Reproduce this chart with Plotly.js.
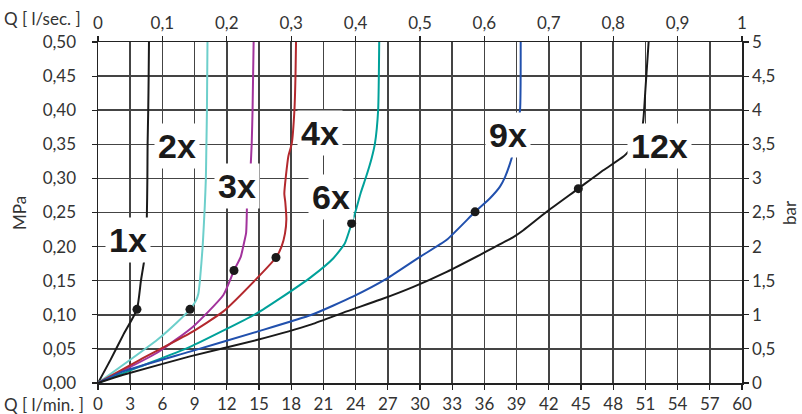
<!DOCTYPE html>
<html><head><meta charset="utf-8">
<script src="https://cdn.plot.ly/plotly-3.0.1.min.js"></script>
<style>html,body{margin:0;padding:0;background:#fff}#chart{width:802px;height:414px}</style>
</head><body><div id="chart"></div>
<script>
// Flow Q [l/min] and pressure p [MPa]
const q1x = [0, 1.2, 2.4, 3.63, 4.0, 4.38, 4.55, 4.6, 4.62, 4.68, 4.72, 4.75];
const p1x = [0, 0.035, 0.072, 0.108, 0.15, 0.188, 0.244, 0.3, 0.35, 0.4, 0.45, 0.5];
const q2x = [0, 3, 5.5, 7.3, 8.57, 9.1, 9.35, 9.5, 9.75, 9.95, 10.05, 10.1, 10.15, 10.2];
const p2x = [0, 0.034, 0.063, 0.088, 0.108, 0.12, 0.131, 0.151, 0.2, 0.26, 0.3, 0.35, 0.4, 0.5];
const q3x = [0, 5.47, 8.88, 11.68, 12.67, 13.3, 13.6, 13.8, 13.85, 13.9, 14.1, 14.22, 14.32, 14.4, 14.5];
const p3x = [0, 0.044, 0.083, 0.129, 0.165, 0.185, 0.205, 0.22, 0.239, 0.268, 0.29, 0.317, 0.351, 0.4, 0.5];
const q4x = [0, 3.9, 8.57, 11.68, 14.78, 16.58, 17.1, 17.42, 17.55, 17.45, 17.36, 17.73, 18.05, 18.3, 18.4, 18.45];
const p4x = [0, 0.034, 0.073, 0.105, 0.153, 0.184, 0.2, 0.219, 0.24, 0.265, 0.278, 0.332, 0.351, 0.4, 0.45, 0.5];
const q6x = [0, 3.91, 8.57, 14.78, 16.96, 19.9, 21.93, 23.0, 23.63, 24.04, 24.5, 24.97, 25.5, 25.8, 26.1, 26.2];
const p6x = [0, 0.024, 0.053, 0.102, 0.124, 0.156, 0.183, 0.205, 0.234, 0.254, 0.28, 0.302, 0.33, 0.351, 0.4, 0.5];
const q9x = [0, 2.36, 8.57, 14.78, 19.9, 23.79, 26.9, 30.0, 32.49, 35.13, 36.52, 37.45, 37.92, 38.39, 38.7, 39.0, 39.32, 39.38];
const p9x = [0, 0.017, 0.046, 0.075, 0.1, 0.127, 0.153, 0.185, 0.21, 0.251, 0.271, 0.288, 0.302, 0.322, 0.339, 0.37, 0.4, 0.5];
const q12x = [0, 2.36, 8.57, 14.78, 19.9, 23.17, 26.27, 29.38, 32.49, 35.6, 38.7, 39.63, 41.8, 44.75, 47.08, 48.95, 50.0, 50.74, 51.0, 51.3];
const p12x = [0, 0.012, 0.039, 0.063, 0.086, 0.105, 0.122, 0.141, 0.163, 0.188, 0.214, 0.224, 0.251, 0.285, 0.312, 0.332, 0.35, 0.378, 0.43, 0.5];
const markQ = [3.63, 8.57, 12.67, 16.58, 23.63, 35.13, 44.75];
const markP = [0.108, 0.108, 0.165, 0.184, 0.234, 0.251, 0.285];
const labelText = ["1x", "2x", "3x", "4x", "6x", "9x", "12x"];
const labelQ = [2.8, 7.33, 12.93, 20.64, 21.7, 38.2, 52.27];
const labelP = [0.209, 0.347, 0.289, 0.366, 0.273, 0.364, 0.347];
const xTicks = [0,3,6,9,12,15,18,21,24,27,30,33,36,39,42,45,48,51,54,57,60];
const topTicks = [0,0.1,0.2,0.3,0.4,0.5,0.6,0.7,0.8,0.9,1];
const topText = ["0","0,1","0,2","0,3","0,4","0,5","0,6","0,7","0,8","0,9","1"];
const mpaTicks = [0,0.05,0.1,0.15,0.2,0.25,0.3,0.35,0.4,0.45,0.5];
const mpaText = ["0,00","0,05","0,10","0,15","0,20","0,25","0,30","0,35","0,40","0,45","0,50"];
const barTicks = [0,0.5,1,1.5,2,2.5,3,3.5,4,4.5,5];
const barText = ["0","0,5","1","1,5","2","2,5","3","3,5","4","4,5","5"];

const series = [
  [q1x, p1x, "#1a1a1a"], [q2x, p2x, "#6dcfcb"], [q3x, p3x, "#a2339c"],
  [q4x, p4x, "#b3282d"], [q6x, p6x, "#00a19a"], [q9x, p9x, "#2150ad"], [q12x, p12x, "#1a1a1a"]
];
const traces = series.map(s => ({
  x: s[0], y: s[1], type: "scatter", mode: "lines",
  line: {color: s[2], width: 2, shape: "spline", smoothing: 0.5},
  xaxis: "x", yaxis: "y", hoverinfo: "skip"
}));
traces.push({x: markQ, y: markP, type: "scatter", mode: "markers",
  marker: {color: "#1a1a1a", size: 9}, xaxis: "x", yaxis: "y"});
traces.push({x: [0], y: [0], type: "scatter", mode: "markers", marker: {opacity: 0}, xaxis: "x2", yaxis: "y2", hoverinfo: "skip"});

const tickFont = {family: "Lato, 'Noto Sans', sans-serif", size: 17, color: "#333"};
const gridC = "#444444";
const annotations = labelText.map((t, i) => ({
  x: labelQ[i], y: labelP[i], xref: "x", yref: "y", text: t, showarrow: false,
  font: {family: "'Liberation Sans', Arial, sans-serif", size: 34, color: "#1a1a1a", weight: 900},
  bgcolor: "#ffffff", borderpad: 3
}));
// plot area in pixels: x 98..742, y 42..383
const px = v => (v - 98) / 644;
const py = v => (383 - v) / 341;
const titles = [
  {text: "Q [ l/sec. ]", x: 2, y: 18},
  {text: "Q [ l/min. ]", x: 2, y: 404}
];
titles.forEach(t => annotations.push({
  text: t.text, x: px(t.x), y: py(t.y), xref: "paper", yref: "paper",
  xanchor: "left", yanchor: "middle", showarrow: false, font: tickFont
}));
annotations.push({text: "MPa", x: px(19), y: py(213), xref: "paper", yref: "paper",
  textangle: -90, showarrow: false, font: tickFont, xanchor: "center", yanchor: "middle"});
annotations.push({text: "bar", x: px(789), y: py(213), xref: "paper", yref: "paper",
  textangle: -90, showarrow: false, font: tickFont, xanchor: "center", yanchor: "middle"});

const axisCommon = {zeroline: false, showline: true, linecolor: "#222", linewidth: 1.5,
  ticks: "outside", ticklen: 5, tickcolor: "#222", tickwidth: 1.2, tickfont: tickFont, fixedrange: true};
const layout = {
  width: 802, height: 414,
  margin: {l: 98, r: 60, t: 42, b: 31},
  paper_bgcolor: "#fff", plot_bgcolor: "#fff",
  showlegend: false,
  xaxis: Object.assign({range: [0, 60], tickvals: xTicks, ticktext: xTicks.map(String), showgrid: true,
    gridcolor: gridC, gridwidth: 1.5}, axisCommon),
  xaxis2: Object.assign({range: [0, 1], overlaying: "x", side: "top", tickvals: topTicks, ticktext: topText,
    showgrid: false}, axisCommon),
  yaxis: Object.assign({range: [0, 0.5], tickvals: mpaTicks, ticktext: mpaText, showgrid: true,
    gridcolor: gridC, gridwidth: 1.5, ticklabelstandoff: 12}, axisCommon),
  yaxis2: Object.assign({range: [0, 5], overlaying: "y", side: "right", tickvals: barTicks, ticktext: barText,
    showgrid: false}, axisCommon),
  annotations: annotations
};
Plotly.newPlot("chart", traces, layout, {staticPlot: true});
</script></body></html>
